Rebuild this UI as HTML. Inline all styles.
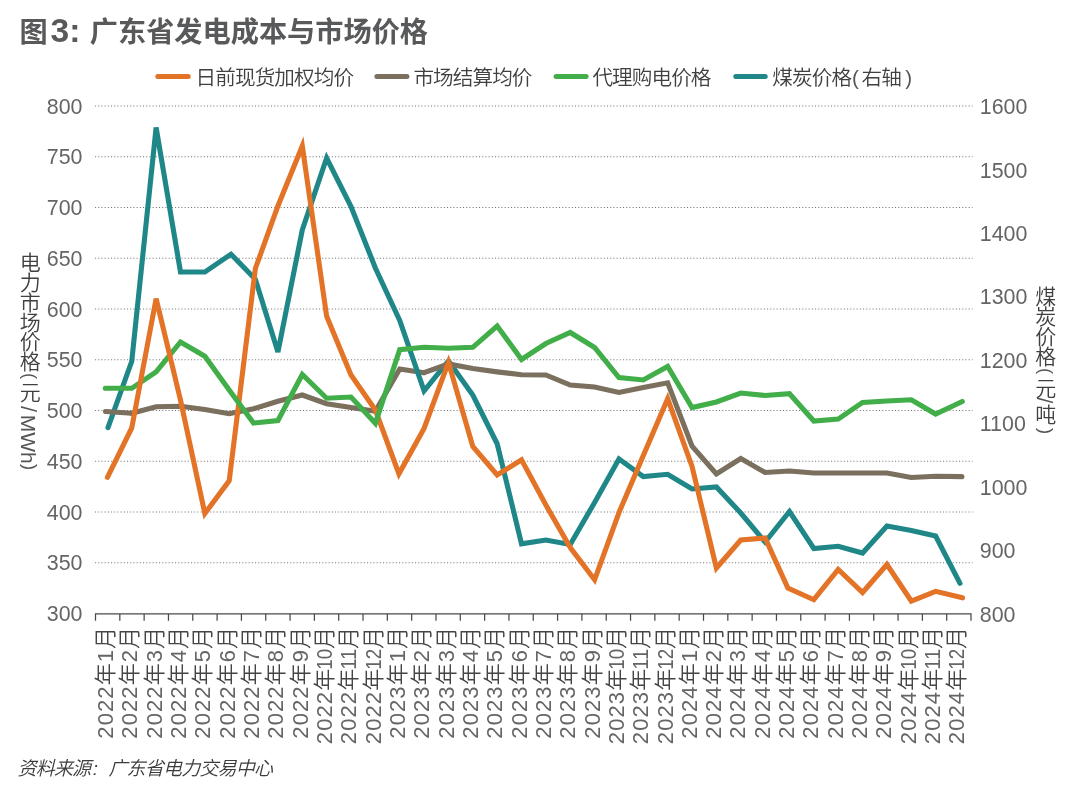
<!DOCTYPE html>
<html lang="zh"><head><meta charset="utf-8"><title>图3: 广东省发电成本与市场价格</title>
<style>
html,body{margin:0;padding:0;background:#fff;}
body{width:1080px;height:793px;overflow:hidden;position:relative;font-family:"Liberation Sans","Noto Sans CJK SC",sans-serif;}
svg{position:absolute;left:0;top:0;}
svg text{font-family:"Liberation Sans","Noto Sans CJK SC",sans-serif;}
.src{position:absolute;left:17.5px;top:754.6px;font-size:19px;font-style:italic;font-weight:350;color:#3c3c3c;white-space:nowrap;line-height:28px;letter-spacing:-0.8px;}
.vt{position:absolute;writing-mode:vertical-rl;text-orientation:mixed;font-size:21px;font-weight:350;color:#404040;white-space:nowrap;line-height:24px;width:24px;letter-spacing:-1.3px;}
.vt .la{font-size:22px;letter-spacing:0.6px;color:#555;}
.vt .pp{font-size:18.5px;position:relative;left:2.2px;}
.lg{position:absolute;top:63.6px;font-size:20.6px;font-weight:350;color:#404040;white-space:nowrap;line-height:28px;letter-spacing:-0.9px;}
.lg .la{color:#555;letter-spacing:0;}
</style></head><body>
<svg width="1080" height="793" viewBox="0 0 1080 793">
<text y="41.5" font-weight="700" fill="#58595b" font-size="28.2"><tspan x="19.5">图</tspan><tspan x="50.6" font-size="33.6">3:</tspan><tspan x="89.8">广东省发电成本与市场价格</tspan></text>
<line x1="95" x2="972.6" y1="106.00" y2="106.00" stroke="#7a7a7a" stroke-width="1.15" stroke-dasharray="1.1 2.1"/>
<line x1="95" x2="972.6" y1="156.75" y2="156.75" stroke="#7a7a7a" stroke-width="1.15" stroke-dasharray="1.1 2.1"/>
<line x1="95" x2="972.6" y1="207.50" y2="207.50" stroke="#7a7a7a" stroke-width="1.15" stroke-dasharray="1.1 2.1"/>
<line x1="95" x2="972.6" y1="258.25" y2="258.25" stroke="#7a7a7a" stroke-width="1.15" stroke-dasharray="1.1 2.1"/>
<line x1="95" x2="972.6" y1="309.00" y2="309.00" stroke="#7a7a7a" stroke-width="1.15" stroke-dasharray="1.1 2.1"/>
<line x1="95" x2="972.6" y1="359.75" y2="359.75" stroke="#7a7a7a" stroke-width="1.15" stroke-dasharray="1.1 2.1"/>
<line x1="95" x2="972.6" y1="410.50" y2="410.50" stroke="#7a7a7a" stroke-width="1.15" stroke-dasharray="1.1 2.1"/>
<line x1="95" x2="972.6" y1="461.25" y2="461.25" stroke="#7a7a7a" stroke-width="1.15" stroke-dasharray="1.1 2.1"/>
<line x1="95" x2="972.6" y1="512.00" y2="512.00" stroke="#7a7a7a" stroke-width="1.15" stroke-dasharray="1.1 2.1"/>
<line x1="95" x2="972.6" y1="562.75" y2="562.75" stroke="#7a7a7a" stroke-width="1.15" stroke-dasharray="1.1 2.1"/>
<path d="M95.5 620.8 V613.9 H971.0 V620.8" fill="none" stroke="#4a4a4a" stroke-width="1.25"/>
<line x1="119.82" x2="119.82" y1="613.9" y2="620.8" stroke="#4a4a4a" stroke-width="1.25"/>
<line x1="144.14" x2="144.14" y1="613.9" y2="620.8" stroke="#4a4a4a" stroke-width="1.25"/>
<line x1="168.46" x2="168.46" y1="613.9" y2="620.8" stroke="#4a4a4a" stroke-width="1.25"/>
<line x1="192.78" x2="192.78" y1="613.9" y2="620.8" stroke="#4a4a4a" stroke-width="1.25"/>
<line x1="217.10" x2="217.10" y1="613.9" y2="620.8" stroke="#4a4a4a" stroke-width="1.25"/>
<line x1="241.42" x2="241.42" y1="613.9" y2="620.8" stroke="#4a4a4a" stroke-width="1.25"/>
<line x1="265.74" x2="265.74" y1="613.9" y2="620.8" stroke="#4a4a4a" stroke-width="1.25"/>
<line x1="290.06" x2="290.06" y1="613.9" y2="620.8" stroke="#4a4a4a" stroke-width="1.25"/>
<line x1="314.38" x2="314.38" y1="613.9" y2="620.8" stroke="#4a4a4a" stroke-width="1.25"/>
<line x1="338.70" x2="338.70" y1="613.9" y2="620.8" stroke="#4a4a4a" stroke-width="1.25"/>
<line x1="363.02" x2="363.02" y1="613.9" y2="620.8" stroke="#4a4a4a" stroke-width="1.25"/>
<line x1="387.34" x2="387.34" y1="613.9" y2="620.8" stroke="#4a4a4a" stroke-width="1.25"/>
<line x1="411.66" x2="411.66" y1="613.9" y2="620.8" stroke="#4a4a4a" stroke-width="1.25"/>
<line x1="435.98" x2="435.98" y1="613.9" y2="620.8" stroke="#4a4a4a" stroke-width="1.25"/>
<line x1="460.30" x2="460.30" y1="613.9" y2="620.8" stroke="#4a4a4a" stroke-width="1.25"/>
<line x1="484.62" x2="484.62" y1="613.9" y2="620.8" stroke="#4a4a4a" stroke-width="1.25"/>
<line x1="508.94" x2="508.94" y1="613.9" y2="620.8" stroke="#4a4a4a" stroke-width="1.25"/>
<line x1="533.26" x2="533.26" y1="613.9" y2="620.8" stroke="#4a4a4a" stroke-width="1.25"/>
<line x1="557.58" x2="557.58" y1="613.9" y2="620.8" stroke="#4a4a4a" stroke-width="1.25"/>
<line x1="581.90" x2="581.90" y1="613.9" y2="620.8" stroke="#4a4a4a" stroke-width="1.25"/>
<line x1="606.22" x2="606.22" y1="613.9" y2="620.8" stroke="#4a4a4a" stroke-width="1.25"/>
<line x1="630.54" x2="630.54" y1="613.9" y2="620.8" stroke="#4a4a4a" stroke-width="1.25"/>
<line x1="654.86" x2="654.86" y1="613.9" y2="620.8" stroke="#4a4a4a" stroke-width="1.25"/>
<line x1="679.18" x2="679.18" y1="613.9" y2="620.8" stroke="#4a4a4a" stroke-width="1.25"/>
<line x1="703.50" x2="703.50" y1="613.9" y2="620.8" stroke="#4a4a4a" stroke-width="1.25"/>
<line x1="727.82" x2="727.82" y1="613.9" y2="620.8" stroke="#4a4a4a" stroke-width="1.25"/>
<line x1="752.14" x2="752.14" y1="613.9" y2="620.8" stroke="#4a4a4a" stroke-width="1.25"/>
<line x1="776.46" x2="776.46" y1="613.9" y2="620.8" stroke="#4a4a4a" stroke-width="1.25"/>
<line x1="800.78" x2="800.78" y1="613.9" y2="620.8" stroke="#4a4a4a" stroke-width="1.25"/>
<line x1="825.10" x2="825.10" y1="613.9" y2="620.8" stroke="#4a4a4a" stroke-width="1.25"/>
<line x1="849.42" x2="849.42" y1="613.9" y2="620.8" stroke="#4a4a4a" stroke-width="1.25"/>
<line x1="873.74" x2="873.74" y1="613.9" y2="620.8" stroke="#4a4a4a" stroke-width="1.25"/>
<line x1="898.06" x2="898.06" y1="613.9" y2="620.8" stroke="#4a4a4a" stroke-width="1.25"/>
<line x1="922.38" x2="922.38" y1="613.9" y2="620.8" stroke="#4a4a4a" stroke-width="1.25"/>
<line x1="946.70" x2="946.70" y1="613.9" y2="620.8" stroke="#4a4a4a" stroke-width="1.25"/>
<path d="M131.76 413.25 L156.12 406.75 L180.48 406.25 L204.84 409.50 L229.20 413.75 L253.56 408.75 L277.92 401.25 L302.28 395.00 L326.64 403.75 L351.00 407.50 L375.36 411.20 L399.72 369.00 L424.08 372.70" fill="none" stroke="#7B6F5E" stroke-width="5.1" stroke-linecap="round" stroke-linejoin="miter" stroke-miterlimit="4"/>
<path d="M108.00 427.70 L131.76 361.25 L156.12 127.50 L180.48 272.00 L204.84 272.00 L231.00 254.20 L255.36 279.30 L277.92 352.00 L302.28 230.00 L326.64 158.00 L351.00 206.50 L375.36 268.00 L399.72 320.40 L424.08 390.80 L448.44 361.00 L472.80 395.00 L497.16 443.75 L521.52 543.75 L545.88 540.00 L570.24 544.50 L594.60 502.50 L618.96 459.00 L643.32 476.50 L667.68 474.30 L692.04 489.00 L716.40 487.00 L740.76 513.00 L765.12 542.00 L789.48 511.50 L813.84 548.50 L838.20 546.25 L862.56 553.00 L886.92 526.00 L911.28 530.40 L935.64 536.00 L960.00 583.30" fill="none" stroke="#1F8788" stroke-width="5.1" stroke-linecap="round" stroke-linejoin="miter" stroke-miterlimit="4"/>
<path d="M105.50 411.50 L131.76 413.25" fill="none" stroke="#7B6F5E" stroke-width="5.1" stroke-linecap="round" stroke-linejoin="miter" stroke-miterlimit="4"/>
<path d="M424.08 372.70 L448.44 364.00 L472.80 368.60 L497.16 371.90 L521.52 374.70 L545.88 375.00 L570.24 385.00 L594.60 387.00 L618.96 392.50 L643.32 387.50 L667.68 382.80 L692.04 446.25 L716.40 474.00 L740.76 458.50 L765.12 472.50 L789.48 471.00 L813.84 473.00 L838.20 473.00 L862.56 473.00 L886.92 473.00 L911.28 477.50 L935.64 476.20 L962.00 476.60" fill="none" stroke="#7B6F5E" stroke-width="5.1" stroke-linecap="round" stroke-linejoin="miter" stroke-miterlimit="4"/>
<path d="M180.48 400.00 L204.84 513.50 L229.20 480.75 L255.36 268.50 L277.92 206.00 L302.28 146.00 L326.64 316.25 L351.00 375.00 L375.36 410.00 L398.92 473.80 L424.08 428.50 L448.44 362.30 L472.80 446.50 L497.16 475.00 L521.52 459.75 L545.88 505.00 L570.24 547.50 L594.60 579.80 L618.96 512.60 L643.32 455.50 L667.68 398.80 L692.04 466.50 L716.40 568.00 L740.76 540.00 L765.12 538.00 L787.88 588.00 L813.84 599.70 L838.20 569.50 L862.56 592.50 L886.92 564.50 L911.28 601.00 L935.64 591.30 L962.50 597.80" fill="none" stroke="#E37326" stroke-width="5.1" stroke-linecap="round" stroke-linejoin="miter" stroke-miterlimit="4"/>
<path d="M105.30 388.25 L131.76 388.25 L156.12 371.75 L180.48 342.00 L204.84 356.25 L229.20 390.00 L253.56 423.00 L277.92 420.50 L302.28 374.50 L326.64 398.25 L351.00 397.00 L375.36 423.30 L399.72 349.70 L424.08 347.30 L448.44 348.20 L472.80 347.30 L497.16 326.00 L521.52 359.50 L545.88 343.50 L570.24 332.50 L594.60 347.50 L618.96 377.50 L643.32 380.00 L667.68 366.50 L692.04 407.50 L716.40 402.00 L740.76 393.00 L765.12 395.50 L789.48 393.75 L813.84 421.00 L838.20 419.10 L862.56 402.40 L886.92 401.00 L911.28 399.80 L935.64 414.00 L962.30 401.50" fill="none" stroke="#41AE49" stroke-width="5.1" stroke-linecap="round" stroke-linejoin="miter" stroke-miterlimit="4"/>
<path d="M107.40 477.30 L131.76 428.00 L156.12 298.60 L180.48 400.00" fill="none" stroke="#E37326" stroke-width="5.1" stroke-linecap="round" stroke-linejoin="miter" stroke-miterlimit="4"/>
<text x="82.5" y="113.60" font-size="21.4" fill="#656565" text-anchor="end">800</text>
<text x="82.5" y="164.35" font-size="21.4" fill="#656565" text-anchor="end">750</text>
<text x="82.5" y="215.10" font-size="21.4" fill="#656565" text-anchor="end">700</text>
<text x="82.5" y="265.85" font-size="21.4" fill="#656565" text-anchor="end">650</text>
<text x="82.5" y="316.60" font-size="21.4" fill="#656565" text-anchor="end">600</text>
<text x="82.5" y="367.35" font-size="21.4" fill="#656565" text-anchor="end">550</text>
<text x="82.5" y="418.10" font-size="21.4" fill="#656565" text-anchor="end">500</text>
<text x="82.5" y="468.85" font-size="21.4" fill="#656565" text-anchor="end">450</text>
<text x="82.5" y="519.60" font-size="21.4" fill="#656565" text-anchor="end">400</text>
<text x="82.5" y="570.35" font-size="21.4" fill="#656565" text-anchor="end">350</text>
<text x="82.5" y="621.10" font-size="21.4" fill="#656565" text-anchor="end">300</text>
<text x="979.8" y="621.60" font-size="21.4" fill="#656565">800</text>
<text x="979.8" y="558.16" font-size="21.4" fill="#656565">900</text>
<text x="979.8" y="494.72" font-size="21.4" fill="#656565">1000</text>
<text x="979.8" y="431.28" font-size="21.4" fill="#656565">1100</text>
<text x="979.8" y="367.84" font-size="21.4" fill="#656565">1200</text>
<text x="979.8" y="304.40" font-size="21.4" fill="#656565">1300</text>
<text x="979.8" y="240.96" font-size="21.4" fill="#656565">1400</text>
<text x="979.8" y="177.52" font-size="21.4" fill="#656565">1500</text>
<text x="979.8" y="114.08" font-size="21.4" fill="#656565">1600</text>
<text transform="translate(113.16 625.8) rotate(-90)" font-size="22" font-weight="300" letter-spacing="1.1" fill="#656565" text-anchor="end">2022<tspan fill="#454545" font-weight="350">年</tspan>1<tspan fill="#454545" font-weight="350">月</tspan></text>
<text transform="translate(137.48 625.8) rotate(-90)" font-size="22" font-weight="300" letter-spacing="1.1" fill="#656565" text-anchor="end">2022<tspan fill="#454545" font-weight="350">年</tspan>2<tspan fill="#454545" font-weight="350">月</tspan></text>
<text transform="translate(161.80 625.8) rotate(-90)" font-size="22" font-weight="300" letter-spacing="1.1" fill="#656565" text-anchor="end">2022<tspan fill="#454545" font-weight="350">年</tspan>3<tspan fill="#454545" font-weight="350">月</tspan></text>
<text transform="translate(186.12 625.8) rotate(-90)" font-size="22" font-weight="300" letter-spacing="1.1" fill="#656565" text-anchor="end">2022<tspan fill="#454545" font-weight="350">年</tspan>4<tspan fill="#454545" font-weight="350">月</tspan></text>
<text transform="translate(210.44 625.8) rotate(-90)" font-size="22" font-weight="300" letter-spacing="1.1" fill="#656565" text-anchor="end">2022<tspan fill="#454545" font-weight="350">年</tspan>5<tspan fill="#454545" font-weight="350">月</tspan></text>
<text transform="translate(234.76 625.8) rotate(-90)" font-size="22" font-weight="300" letter-spacing="1.1" fill="#656565" text-anchor="end">2022<tspan fill="#454545" font-weight="350">年</tspan>6<tspan fill="#454545" font-weight="350">月</tspan></text>
<text transform="translate(259.08 625.8) rotate(-90)" font-size="22" font-weight="300" letter-spacing="1.1" fill="#656565" text-anchor="end">2022<tspan fill="#454545" font-weight="350">年</tspan>7<tspan fill="#454545" font-weight="350">月</tspan></text>
<text transform="translate(283.40 625.8) rotate(-90)" font-size="22" font-weight="300" letter-spacing="1.1" fill="#656565" text-anchor="end">2022<tspan fill="#454545" font-weight="350">年</tspan>8<tspan fill="#454545" font-weight="350">月</tspan></text>
<text transform="translate(307.72 625.8) rotate(-90)" font-size="22" font-weight="300" letter-spacing="1.1" fill="#656565" text-anchor="end">2022<tspan fill="#454545" font-weight="350">年</tspan>9<tspan fill="#454545" font-weight="350">月</tspan></text>
<text transform="translate(332.04 625.8) rotate(-90)" font-size="22" font-weight="300" letter-spacing="1.1" fill="#656565" text-anchor="end">2022<tspan fill="#454545" font-weight="350" letter-spacing="-1">年</tspan><tspan letter-spacing="0" textLength="20.9" lengthAdjust="spacingAndGlyphs">10</tspan><tspan fill="#454545" font-weight="350">月</tspan></text>
<text transform="translate(356.36 625.8) rotate(-90)" font-size="22" font-weight="300" letter-spacing="1.1" fill="#656565" text-anchor="end">2022<tspan fill="#454545" font-weight="350" letter-spacing="-1">年</tspan><tspan letter-spacing="0" textLength="20.9" lengthAdjust="spacingAndGlyphs">11</tspan><tspan fill="#454545" font-weight="350">月</tspan></text>
<text transform="translate(380.68 625.8) rotate(-90)" font-size="22" font-weight="300" letter-spacing="1.1" fill="#656565" text-anchor="end">2022<tspan fill="#454545" font-weight="350" letter-spacing="-1">年</tspan><tspan letter-spacing="0" textLength="20.9" lengthAdjust="spacingAndGlyphs">12</tspan><tspan fill="#454545" font-weight="350">月</tspan></text>
<text transform="translate(405.00 625.8) rotate(-90)" font-size="22" font-weight="300" letter-spacing="1.1" fill="#656565" text-anchor="end">2023<tspan fill="#454545" font-weight="350">年</tspan>1<tspan fill="#454545" font-weight="350">月</tspan></text>
<text transform="translate(429.32 625.8) rotate(-90)" font-size="22" font-weight="300" letter-spacing="1.1" fill="#656565" text-anchor="end">2023<tspan fill="#454545" font-weight="350">年</tspan>2<tspan fill="#454545" font-weight="350">月</tspan></text>
<text transform="translate(453.64 625.8) rotate(-90)" font-size="22" font-weight="300" letter-spacing="1.1" fill="#656565" text-anchor="end">2023<tspan fill="#454545" font-weight="350">年</tspan>3<tspan fill="#454545" font-weight="350">月</tspan></text>
<text transform="translate(477.96 625.8) rotate(-90)" font-size="22" font-weight="300" letter-spacing="1.1" fill="#656565" text-anchor="end">2023<tspan fill="#454545" font-weight="350">年</tspan>4<tspan fill="#454545" font-weight="350">月</tspan></text>
<text transform="translate(502.28 625.8) rotate(-90)" font-size="22" font-weight="300" letter-spacing="1.1" fill="#656565" text-anchor="end">2023<tspan fill="#454545" font-weight="350">年</tspan>5<tspan fill="#454545" font-weight="350">月</tspan></text>
<text transform="translate(526.60 625.8) rotate(-90)" font-size="22" font-weight="300" letter-spacing="1.1" fill="#656565" text-anchor="end">2023<tspan fill="#454545" font-weight="350">年</tspan>6<tspan fill="#454545" font-weight="350">月</tspan></text>
<text transform="translate(550.92 625.8) rotate(-90)" font-size="22" font-weight="300" letter-spacing="1.1" fill="#656565" text-anchor="end">2023<tspan fill="#454545" font-weight="350">年</tspan>7<tspan fill="#454545" font-weight="350">月</tspan></text>
<text transform="translate(575.24 625.8) rotate(-90)" font-size="22" font-weight="300" letter-spacing="1.1" fill="#656565" text-anchor="end">2023<tspan fill="#454545" font-weight="350">年</tspan>8<tspan fill="#454545" font-weight="350">月</tspan></text>
<text transform="translate(599.56 625.8) rotate(-90)" font-size="22" font-weight="300" letter-spacing="1.1" fill="#656565" text-anchor="end">2023<tspan fill="#454545" font-weight="350">年</tspan>9<tspan fill="#454545" font-weight="350">月</tspan></text>
<text transform="translate(623.88 625.8) rotate(-90)" font-size="22" font-weight="300" letter-spacing="1.1" fill="#656565" text-anchor="end">2023<tspan fill="#454545" font-weight="350" letter-spacing="-1">年</tspan><tspan letter-spacing="0" textLength="20.9" lengthAdjust="spacingAndGlyphs">10</tspan><tspan fill="#454545" font-weight="350">月</tspan></text>
<text transform="translate(648.20 625.8) rotate(-90)" font-size="22" font-weight="300" letter-spacing="1.1" fill="#656565" text-anchor="end">2023<tspan fill="#454545" font-weight="350" letter-spacing="-1">年</tspan><tspan letter-spacing="0" textLength="20.9" lengthAdjust="spacingAndGlyphs">11</tspan><tspan fill="#454545" font-weight="350">月</tspan></text>
<text transform="translate(672.52 625.8) rotate(-90)" font-size="22" font-weight="300" letter-spacing="1.1" fill="#656565" text-anchor="end">2023<tspan fill="#454545" font-weight="350" letter-spacing="-1">年</tspan><tspan letter-spacing="0" textLength="20.9" lengthAdjust="spacingAndGlyphs">12</tspan><tspan fill="#454545" font-weight="350">月</tspan></text>
<text transform="translate(696.84 625.8) rotate(-90)" font-size="22" font-weight="300" letter-spacing="1.1" fill="#656565" text-anchor="end">2024<tspan fill="#454545" font-weight="350">年</tspan>1<tspan fill="#454545" font-weight="350">月</tspan></text>
<text transform="translate(721.16 625.8) rotate(-90)" font-size="22" font-weight="300" letter-spacing="1.1" fill="#656565" text-anchor="end">2024<tspan fill="#454545" font-weight="350">年</tspan>2<tspan fill="#454545" font-weight="350">月</tspan></text>
<text transform="translate(745.48 625.8) rotate(-90)" font-size="22" font-weight="300" letter-spacing="1.1" fill="#656565" text-anchor="end">2024<tspan fill="#454545" font-weight="350">年</tspan>3<tspan fill="#454545" font-weight="350">月</tspan></text>
<text transform="translate(769.80 625.8) rotate(-90)" font-size="22" font-weight="300" letter-spacing="1.1" fill="#656565" text-anchor="end">2024<tspan fill="#454545" font-weight="350">年</tspan>4<tspan fill="#454545" font-weight="350">月</tspan></text>
<text transform="translate(794.12 625.8) rotate(-90)" font-size="22" font-weight="300" letter-spacing="1.1" fill="#656565" text-anchor="end">2024<tspan fill="#454545" font-weight="350">年</tspan>5<tspan fill="#454545" font-weight="350">月</tspan></text>
<text transform="translate(818.44 625.8) rotate(-90)" font-size="22" font-weight="300" letter-spacing="1.1" fill="#656565" text-anchor="end">2024<tspan fill="#454545" font-weight="350">年</tspan>6<tspan fill="#454545" font-weight="350">月</tspan></text>
<text transform="translate(842.76 625.8) rotate(-90)" font-size="22" font-weight="300" letter-spacing="1.1" fill="#656565" text-anchor="end">2024<tspan fill="#454545" font-weight="350">年</tspan>7<tspan fill="#454545" font-weight="350">月</tspan></text>
<text transform="translate(867.08 625.8) rotate(-90)" font-size="22" font-weight="300" letter-spacing="1.1" fill="#656565" text-anchor="end">2024<tspan fill="#454545" font-weight="350">年</tspan>8<tspan fill="#454545" font-weight="350">月</tspan></text>
<text transform="translate(891.40 625.8) rotate(-90)" font-size="22" font-weight="300" letter-spacing="1.1" fill="#656565" text-anchor="end">2024<tspan fill="#454545" font-weight="350">年</tspan>9<tspan fill="#454545" font-weight="350">月</tspan></text>
<text transform="translate(915.72 625.8) rotate(-90)" font-size="22" font-weight="300" letter-spacing="1.1" fill="#656565" text-anchor="end">2024<tspan fill="#454545" font-weight="350" letter-spacing="-1">年</tspan><tspan letter-spacing="0" textLength="20.9" lengthAdjust="spacingAndGlyphs">10</tspan><tspan fill="#454545" font-weight="350">月</tspan></text>
<text transform="translate(940.04 625.8) rotate(-90)" font-size="22" font-weight="300" letter-spacing="1.1" fill="#656565" text-anchor="end">2024<tspan fill="#454545" font-weight="350" letter-spacing="-1">年</tspan><tspan letter-spacing="0" textLength="20.9" lengthAdjust="spacingAndGlyphs">11</tspan><tspan fill="#454545" font-weight="350">月</tspan></text>
<text transform="translate(964.36 625.8) rotate(-90)" font-size="22" font-weight="300" letter-spacing="1.1" fill="#656565" text-anchor="end">2024<tspan fill="#454545" font-weight="350" letter-spacing="-1">年</tspan><tspan letter-spacing="0" textLength="20.9" lengthAdjust="spacingAndGlyphs">12</tspan><tspan fill="#454545" font-weight="350">月</tspan></text>
<line x1="157.8" x2="188.2" y1="76.4" y2="76.4" stroke="#E37326" stroke-width="5" stroke-linecap="round"/>
<line x1="376.9" x2="406.9" y1="76.4" y2="76.4" stroke="#7B6F5E" stroke-width="5" stroke-linecap="round"/>
<line x1="556.1" x2="586.1" y1="76.4" y2="76.4" stroke="#41AE49" stroke-width="5" stroke-linecap="round"/>
<line x1="735.8" x2="765.2" y1="76.4" y2="76.4" stroke="#1F8788" stroke-width="5" stroke-linecap="round"/>
</svg>
<div class="lg" style="left:195.6px">日前现货加权均价</div>
<div class="lg" style="left:413.4px">市场结算均价</div>
<div class="lg" style="left:592.4px">代理购电价格</div>
<div class="lg" style="left:772.3px">煤炭价格<span class="la" style="margin:0 2.5px 0 1px">(</span>右轴<span class="la" style="margin-left:4.5px">)</span></div>
<div class="vt" style="left:16.3px;top:252px;">电力市场价格<span class="la pp" style="margin-inline:2.3px 2px">(</span>元<span class="la" style="margin-inline:5px 2px">/</span><span class="la" style="letter-spacing:0;font-size:21px">MWh</span><span class="la pp" style="margin-inline-start:0.5px">)</span></div>
<div class="vt" style="left:1031.7px;top:285.5px;">煤炭价格<span class="la pp" style="margin-inline:3.5px 2.5px">(</span>元<span class="la">/</span>吨<span class="la pp" style="margin-inline-start:4.5px">)</span></div>
<div class="src">资料来源<span style="letter-spacing:0;margin:0 5px 0 2.5px">: </span>广东省电力交易中心</div>
</body></html>
